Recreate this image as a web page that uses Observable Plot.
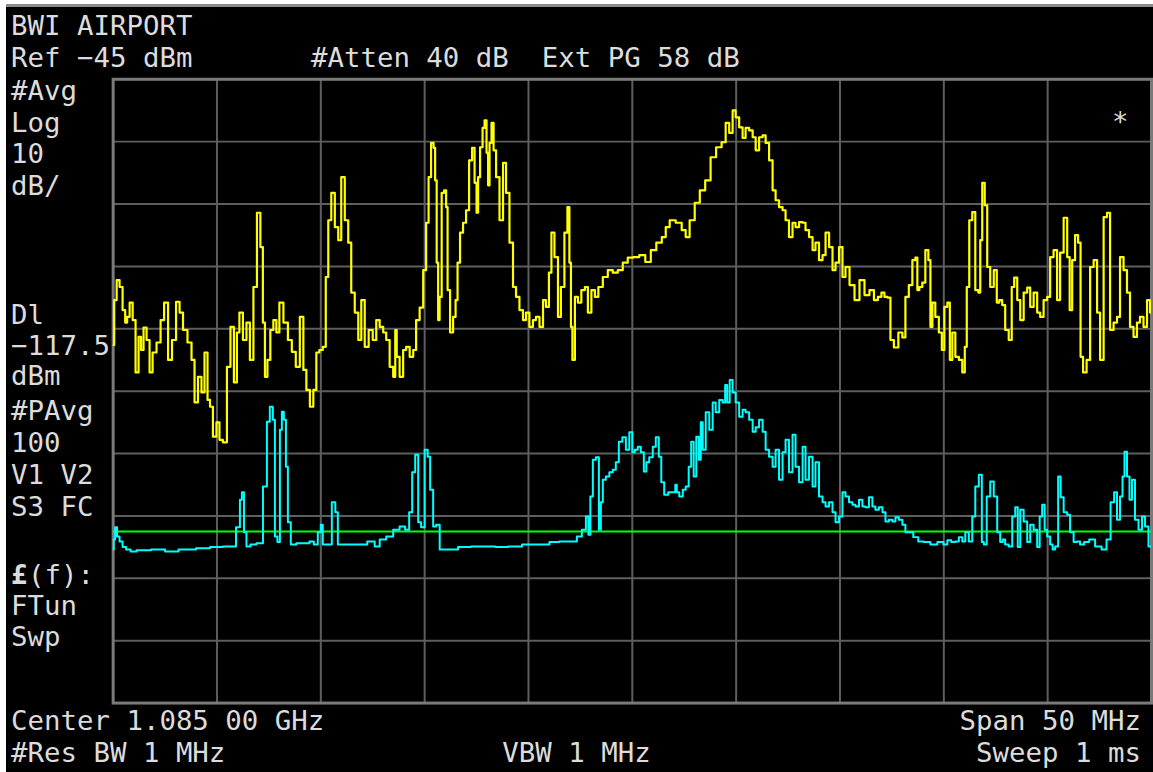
<!DOCTYPE html>
<html><head><meta charset="utf-8">
<script src="https://cdn.jsdelivr.net/npm/d3@7"></script>
<script src="https://cdn.jsdelivr.net/npm/@observablehq/plot@0.6"></script>
<style>
html,body{margin:0;padding:0;background:#fff;width:1153px;height:772px;overflow:hidden;}
#topline{position:absolute;left:6px;top:4px;width:1147px;height:3px;background:#8c8c8c;}
#screen{position:absolute;left:6px;top:7px;width:1147px;height:765px;background:#000;overflow:hidden;}
#screen svg{position:absolute;left:0;top:0;}
</style></head><body>
<div id="topline"></div><div id="screen"></div>
<script>
// ---- Data (frequency in MHz, level in dBm) ----
const freqGrid = [1060,1065,1070,1075,1080,1085,1090,1095,1100,1105,1110];
const levelGrid = [-45,-55,-65,-75,-85,-95,-105,-115,-125,-135,-145];
const displayLine = -117.5;

const yellowFreq = [
1060.00,1060.10,1060.24,1060.38,1060.53,1060.63,1060.72,1060.87,1061.01,1061.15,
1061.30,1061.39,1061.54,1061.68,1061.83,1061.97,1062.21,1062.36,1062.55,1062.74,
1062.93,1063.13,1063.27,1063.46,1063.70,1063.85,1063.99,1064.18,1064.33,1064.47,
1064.62,1064.71,1064.90,1065.05,1065.19,1065.38,1065.58,1065.72,1065.91,1066.01,
1066.15,1066.35,1066.49,1066.68,1066.83,1067.02,1067.16,1067.26,1067.36,1067.50,
1067.64,1067.79,1067.93,1068.08,1068.32,1068.51,1068.70,1068.89,1069.09,1069.23,
1069.38,1069.57,1069.71,1069.86,1070.00,1070.19,1070.29,1070.43,1070.58,1070.77,
1070.91,1071.06,1071.25,1071.39,1071.54,1071.73,1071.88,1072.02,1072.21,1072.40,
1072.60,1072.74,1072.93,1073.08,1073.22,1073.41,1073.56,1073.61,1073.70,1073.89,
1074.04,1074.18,1074.38,1074.52,1074.66,1074.86,1075.00,1075.14,1075.24,1075.38,
1075.48,1075.53,1075.63,1075.67,1075.77,1075.87,1076.01,1076.06,1076.15,1076.30,
1076.44,1076.54,1076.63,1076.78,1076.92,1077.07,1077.21,1077.36,1077.45,1077.55,
1077.60,1077.74,1077.84,1077.93,1078.03,1078.08,1078.17,1078.27,1078.37,1078.51,
1078.70,1078.85,1078.99,1079.18,1079.33,1079.47,1079.66,1079.81,1079.95,1080.14,
1080.29,1080.43,1080.63,1080.77,1080.91,1081.06,1081.15,1081.35,1081.49,1081.63,
1081.83,1081.92,1082.02,1082.07,1082.16,1082.31,1082.45,1082.64,1082.79,1082.93,
1083.13,1083.27,1083.46,1083.70,1083.94,1084.18,1084.42,1084.66,1084.90,1085.19,
1085.48,1085.77,1086.01,1086.30,1086.54,1086.68,1086.92,1087.26,1087.50,1087.64,
1087.88,1088.13,1088.37,1088.65,1088.89,1089.18,1089.42,1089.57,1089.76,1089.90,
1090.05,1090.24,1090.38,1090.53,1090.72,1090.87,1091.01,1091.20,1091.35,1091.49,
1091.68,1091.83,1091.97,1092.16,1092.31,1092.45,1092.64,1092.79,1092.93,1093.13,
1093.27,1093.41,1093.61,1093.75,1093.89,1094.09,1094.23,1094.38,1094.57,1094.71,
1094.86,1095.05,1095.19,1095.34,1095.58,1095.82,1096.06,1096.30,1096.54,1096.73,
1096.92,1097.07,1097.21,1097.36,1097.50,1097.69,1097.93,1098.08,1098.22,1098.41,
1098.56,1098.70,1098.75,1098.89,1099.04,1099.18,1099.33,1099.38,1099.52,1099.66,
1099.86,1099.95,1100.10,1100.24,1100.34,1100.48,1100.63,1100.82,1100.96,1101.06,
1101.15,1101.30,1101.44,1101.59,1101.73,1101.78,1101.92,1102.02,1102.16,1102.31,
1102.50,1102.60,1102.74,1102.88,1103.03,1103.22,1103.32,1103.46,1103.61,1103.75,
1103.94,1104.09,1104.23,1104.42,1104.57,1104.71,1104.90,1105.05,1105.19,1105.38,
1105.53,1105.67,1105.87,1106.01,1106.11,1106.25,1106.39,1106.54,1106.63,1106.78,
1106.97,1107.12,1107.31,1107.45,1107.60,1107.79,1107.93,1108.08,1108.27,1108.41,
1108.56,1108.75,1108.89,1109.04,1109.23,1109.37,1109.52,1109.71,1109.86,1110.00];

const yellowLevel = [
-87.6,-80.4,-77.2,-78.3,-82.0,-84.0,-83.1,-80.8,-83.6,-92.0,
-86.3,-88.4,-84.8,-86.8,-92.0,-88.8,-87.2,-83.6,-80.8,-90.0,
-86.8,-80.7,-82.4,-85.2,-87.2,-90.0,-96.8,-92.7,-95.2,-88.8,
-96.4,-97.5,-102.3,-100.0,-102.8,-103.2,-91.1,-84.7,-93.6,-85.6,
-82.4,-86.8,-84.0,-90.0,-78.3,-66.4,-71.9,-84.0,-92.7,-90.0,
-85.2,-83.6,-85.6,-80.8,-84.0,-86.8,-88.7,-91.1,-83.1,-91.6,
-94.8,-97.5,-94.8,-88.8,-88.4,-87.9,-76.7,-67.6,-63.2,-68.7,
-70.8,-60.7,-67.6,-71.2,-79.2,-82.4,-86.8,-80.4,-87.9,-85.2,
-86.8,-83.6,-84.7,-85.6,-86.8,-91.1,-92.7,-85.2,-89.5,-92.7,
-88.4,-87.9,-89.5,-88.4,-83.6,-81.6,-75.6,-68.0,-60.7,-55.2,
-56.0,-61.2,-74.4,-83.6,-79.9,-63.2,-62.8,-65.5,-78.8,-85.6,
-83.1,-80.4,-74.4,-69.6,-68.0,-66.0,-58.0,-56.0,-61.6,-66.4,
-60.7,-55.9,-52.8,-51.6,-56.8,-62.0,-55.2,-52.0,-56.4,-60.7,
-67.6,-58.4,-63.2,-71.2,-78.3,-79.9,-82.0,-83.6,-82.4,-84.7,
-83.6,-83.1,-84.7,-80.4,-81.5,-76.0,-69.6,-73.5,-83.1,-78.3,
-69.6,-65.5,-74.4,-84.7,-90.0,-79.9,-80.8,-78.8,-78.3,-82.4,
-78.8,-79.9,-78.3,-76.7,-75.6,-76.0,-75.6,-74.4,-73.6,-73.5,
-73.2,-74.3,-72.4,-71.2,-70.3,-68.7,-67.6,-68.0,-69.2,-70.3,
-67.6,-64.8,-62.8,-61.2,-57.5,-55.9,-55.1,-52.0,-53.6,-50.0,
-51.1,-52.7,-54.4,-52.8,-53.2,-54.3,-56.4,-54.3,-54.0,-55.2,
-58.0,-62.8,-64.4,-65.5,-66.0,-67.6,-70.3,-68.0,-68.7,-67.9,
-68.0,-69.2,-70.3,-72.4,-71.2,-74.0,-73.2,-69.6,-71.9,-75.6,
-74.4,-71.9,-76.7,-75.1,-78.0,-80.4,-77.2,-79.6,-78.8,-80.4,
-79.9,-79.2,-79.9,-80.0,-86.8,-88.0,-85.6,-86.4,-79.9,-78.0,
-74.0,-73.6,-78.8,-78.3,-77.6,-72.4,-74.0,-84.7,-80.8,-83.1,
-85.6,-88.4,-81.5,-80.8,-90.0,-85.6,-89.5,-90.0,-92.0,-87.9,
-78.3,-67.6,-66.3,-78.8,-79.2,-70.8,-61.6,-65.2,-75.1,-78.3,
-75.6,-80.8,-80.4,-81.2,-85.2,-86.8,-78.3,-76.8,-80.4,-83.6,
-79.2,-78.4,-81.5,-79.2,-82.4,-83.1,-80.4,-79.9,-73.5,-72.4,
-80.4,-72.8,-67.2,-73.5,-82.0,-74.0,-70.0,-71.2,-89.5,-92.0,
-90.0,-75.1,-74.0,-82.4,-90.0,-67.1,-66.4,-85.2,-84.0,-83.1,
-73.5,-75.6,-79.2,-84.7,-86.3,-84.0,-83.1,-84.7,-80.4,-82.4];

const cyanFreq = [
1060.00,1060.05,1060.14,1060.24,1060.38,1060.53,1060.72,1060.96,1061.30,1061.63,
1062.02,1062.36,1062.64,1062.98,1063.32,1063.80,1064.18,1064.52,1064.81,1065.14,
1065.43,1065.77,1066.06,1066.15,1066.25,1066.35,1066.49,1066.73,1067.07,1067.36,
1067.45,1067.64,1067.74,1067.84,1067.98,1068.08,1068.17,1068.27,1068.37,1068.46,
1068.65,1068.99,1069.33,1069.57,1069.76,1069.95,1070.05,1070.14,1070.43,1070.63,
1070.77,1070.87,1071.39,1071.97,1072.50,1072.69,1072.98,1073.32,1073.65,1073.94,
1074.18,1074.33,1074.47,1074.62,1074.76,1074.90,1075.10,1075.19,1075.34,1075.48,
1075.63,1075.82,1076.30,1076.92,1077.55,1078.13,1078.70,1079.33,1080.05,1080.77,
1081.25,1081.73,1082.21,1082.45,1082.69,1082.84,1082.93,1083.03,1083.17,1083.32,
1083.46,1083.51,1083.65,1083.80,1083.99,1084.13,1084.28,1084.42,1084.62,1084.76,
1084.95,1085.05,1085.19,1085.34,1085.48,1085.63,1085.72,1085.91,1086.06,1086.20,
1086.35,1086.44,1086.63,1086.83,1087.02,1087.12,1087.16,1087.36,1087.50,1087.64,
1087.79,1087.88,1088.03,1088.13,1088.27,1088.32,1088.46,1088.61,1088.80,1088.94,
1089.09,1089.28,1089.42,1089.52,1089.62,1089.76,1089.90,1090.05,1090.24,1090.38,
1090.53,1090.72,1090.87,1091.01,1091.20,1091.35,1091.49,1091.68,1091.83,1091.97,
1092.16,1092.31,1092.45,1092.64,1092.79,1092.93,1093.13,1093.27,1093.41,1093.61,
1093.75,1093.89,1094.09,1094.23,1094.38,1094.57,1094.71,1094.86,1095.05,1095.19,
1095.34,1095.53,1095.67,1095.82,1096.01,1096.15,1096.30,1096.49,1096.63,1096.78,
1096.97,1097.12,1097.26,1097.45,1097.60,1097.74,1097.93,1098.08,1098.22,1098.41,
1098.65,1098.89,1099.18,1099.52,1099.86,1100.10,1100.24,1100.48,1100.63,1100.82,
1100.96,1101.11,1101.30,1101.44,1101.59,1101.78,1101.88,1101.97,1102.16,1102.31,
1102.50,1102.64,1102.79,1102.88,1103.03,1103.22,1103.37,1103.51,1103.61,1103.75,
1103.94,1104.09,1104.23,1104.42,1104.57,1104.66,1104.81,1104.90,1105.05,1105.19,
1105.29,1105.43,1105.58,1105.67,1105.87,1106.01,1106.15,1106.35,1106.49,1106.63,
1106.88,1107.12,1107.45,1107.74,1107.93,1108.13,1108.27,1108.41,1108.56,1108.65,
1108.75,1108.89,1108.99,1109.13,1109.28,1109.47,1109.62,1109.76,1109.95];

const cyanLevel = [
-120.4,-118.8,-116.8,-118.3,-119.1,-120.0,-120.4,-120.7,-120.5,-120.5,
-120.4,-120.4,-120.7,-120.7,-120.4,-120.4,-120.2,-120.2,-120.0,-120.0,
-119.9,-119.9,-116.8,-112.4,-111.2,-117.6,-119.9,-119.6,-119.4,-110.3,
-99.9,-97.5,-99.6,-118.3,-119.2,-101.2,-98.3,-99.6,-107.1,-116.0,
-119.6,-119.4,-119.4,-119.1,-119.6,-117.6,-116.4,-119.6,-119.6,-112.8,
-114.4,-119.6,-119.6,-119.6,-119.1,-119.9,-118.8,-118.3,-117.2,-116.7,
-117.2,-114.4,-108.0,-105.2,-116.0,-116.8,-104.4,-105.5,-110.8,-116.7,
-116.4,-120.4,-120.4,-120.0,-119.9,-119.9,-120.0,-119.9,-119.6,-119.6,
-119.2,-119.1,-119.1,-118.3,-117.2,-115.1,-118.0,-111.9,-106.0,-105.6,
-117.2,-112.8,-109.2,-108.7,-108.0,-107.6,-106.4,-103.1,-102.4,-104.4,
-101.6,-104.8,-104.4,-103.9,-104.8,-107.9,-106.4,-105.6,-103.9,-102.4,
-105.5,-109.6,-111.6,-111.2,-111.2,-110.0,-111.2,-111.9,-110.8,-110.3,
-107.1,-103.1,-108.7,-102.3,-106.0,-100.0,-104.4,-98.4,-101.2,-96.8,
-98.4,-96.4,-96.8,-94.0,-96.8,-93.2,-95.2,-96.8,-99.1,-98.0,
-98.4,-99.6,-101.5,-100.8,-99.6,-101.5,-104.4,-105.5,-107.1,-104.4,
-109.2,-104.8,-102.8,-108.0,-102.0,-107.1,-109.6,-103.9,-109.2,-105.5,
-110.3,-106.4,-111.9,-112.8,-113.5,-112.8,-114.4,-116.0,-115.1,-111.2,
-111.9,-112.8,-113.2,-113.5,-112.4,-113.5,-113.6,-112.0,-113.5,-114.0,
-113.6,-114.4,-115.9,-115.6,-115.9,-115.2,-115.6,-116.4,-117.6,-117.6,
-118.4,-119.1,-119.2,-119.6,-119.2,-119.6,-118.9,-119.2,-119.1,-118.4,
-119.1,-117.6,-119.1,-115.1,-110.3,-108.4,-119.2,-119.6,-111.9,-109.5,
-111.9,-117.6,-119.2,-118.8,-119.6,-119.9,-115.1,-113.6,-120.0,-114.0,
-115.9,-119.2,-116.4,-117.2,-120.0,-115.1,-113.2,-117.2,-118.3,-119.6,
-120.4,-119.9,-108.7,-112.0,-114.4,-114.8,-117.6,-119.2,-119.1,-119.6,
-119.2,-118.8,-119.9,-120.4,-118.8,-112.8,-111.2,-115.6,-111.9,-108.7,
-104.7,-108.7,-112.4,-109.2,-115.6,-117.2,-115.1,-116.7,-119.9];

// ---- Annotation texts ----
const titleText = "BWI AIRPORT";
const refText = "Ref \u221245 dBm";
const attenText = "#Atten 40 dB  Ext PG 58 dB";
const leftTop = ["#Avg", "Log", "10", "dB/"];
const leftMid = ["Dl", "\u2212117.5", "dBm", "#PAvg", "100", "V1 V2", "S3 FC"];
const poundSign = "\u00a3";
const leftLow = ["(f):", "FTun", "Swp"];
const bottomLeft = ["Center 1.085 00 GHz", "#Res BW 1 MHz"];
const bottomMid = "VBW 1 MHz";
const bottomRight = ["Span 50 MHz", "Sweep 1 ms"];
const markerText = "*";

const yellow = yellowFreq.map((f, i) => ({f, v: yellowLevel[i]}));
const cyan = cyanFreq.map((f, i) => ({f, v: cyanLevel[i]}));

const chart = Plot.plot({
  width: 1151, height: 765,
  marginLeft: 107, marginRight: 2, marginTop: 72, marginBottom: 67,
  x: {domain: [1060, 1110], axis: null},
  y: {domain: [-145, -45], axis: null},
  style: {background: "#000", overflow: "visible"},
  marks: [
    Plot.ruleX(freqGrid, {stroke: "#5e5e5e", strokeWidth: 2}),
    Plot.ruleY(levelGrid, {stroke: "#5e5e5e", strokeWidth: 2}),
    Plot.frame({stroke: "#7a7a7a", strokeWidth: 3}),
    Plot.ruleY([displayLine], {stroke: "#00ff00", strokeWidth: 2}),
    Plot.line(cyan, {x: "f", y: "v", stroke: "#00ffff", strokeWidth: 2, curve: "step", clip: true}),
    Plot.line(yellow, {x: "f", y: "v", stroke: "#ffff00", strokeWidth: 2.2, curve: "step", clip: true})
  ]
});
document.getElementById("screen").appendChild(chart);

const svg = d3.select(chart);
const g = svg.append("g")
  .attr("font-family", "'DejaVu Sans Mono', monospace")
  .attr("font-size", 27.5)
  .attr("fill", "#dcdcdc");
function put(t, x, y, anchor, weight) {
  const el = g.append("text").attr("x", x).attr("y", y)
    .attr("text-anchor", anchor || "start")
    .attr("xml:space", "preserve")
    .style("white-space", "pre")
    .text(t);
  if (weight) el.attr("font-weight", weight);
  return el;
}
put(titleText, 5, 28);
put(refText, 5, 60);
put(attenText, 306, 60);
leftTop.forEach((t, i) => put(t, 5, 93 + i * 32));
leftMid.forEach((t, i) => put(t, 5, [318, 349, 379, 414, 447, 479, 511][i]));
put(poundSign, 5, 579, "start", "bold");
put(leftLow[0], 22, 579);
put(leftLow[1], 5, 610);
put(leftLow[2], 5, 641);
put(bottomLeft[0], 5, 726);
put(bottomLeft[1], 5, 758);
put(bottomMid, 498, 758);
put(bottomRight[0], 1139, 726, "end");
put(bottomRight[1], 1139, 758, "end");
put(markerText, 1110, 124);
</script>
</body></html>
